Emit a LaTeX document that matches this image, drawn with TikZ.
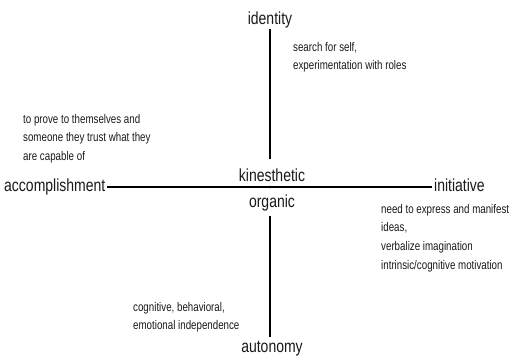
\documentclass[tikz,border=0pt]{standalone}
\usepackage{fontspec}
\setmainfont[FakeStretch=0.8]{Liberation Sans}
\newfontfamily\notefont[FakeStretch=0.78]{Liberation Sans}
\begin{document}
\begin{tikzpicture}[x=1pt,y=-1pt,
  biglabel/.style={font=\fontsize{17.5}{17.5}\selectfont, inner sep=0pt, anchor=base, text=black!90},
  note/.style={font=\notefont\fontsize{12.5}{18.7}\selectfont, inner sep=0pt, anchor=north west, align=left, text=black!90},
  vaxis/.style={line width=1.8pt, black},
  haxis/.style={line width=1.3pt, black}]
\useasboundingbox (0,0) rectangle (514,356);
\coordinate (c) at (270,187);
% axis labels
\node[biglabel] (identity) at (270,24) {identity};
\node[biglabel] (kin) at (272,181) {kinesthetic};
\node[biglabel] (org) at (272,207) {organic};
\node[biglabel] (auto) at (272,352) {autonomy};
\node[biglabel, anchor=base west] (acc) at (4,191) {accomplishment};
\node[biglabel, anchor=base west] (ini) at (434,191) {initiative};
% notes
\node[note] (n1) at (293,42) {search for self,\\experimentation with roles};
\node[note] (n2) at (23,114) {to prove to themselves and\\someone they trust what they\\are capable of};
\node[note] (n3) at (381,204) {need to express and manifest\\ideas,\\verbalize imagination\\intrinsic/cognitive motivation};
\node[note] (n4) at (133,302) {cognitive, behavioral,\\emotional independence};
% axes
\draw[vaxis, shorten <=1.5pt, shorten >=9pt] (identity.south -| c) -- (kin.north -| c);
\draw[vaxis, shorten <=5pt, shorten >=3pt] (org.south -| c) -- (auto.north -| c);
\draw[haxis, shorten <=1pt, shorten >=2pt] (acc.east |- c) -- (ini.west |- c);
\fill (c) circle (1.3pt);
\end{tikzpicture}
\end{document}
